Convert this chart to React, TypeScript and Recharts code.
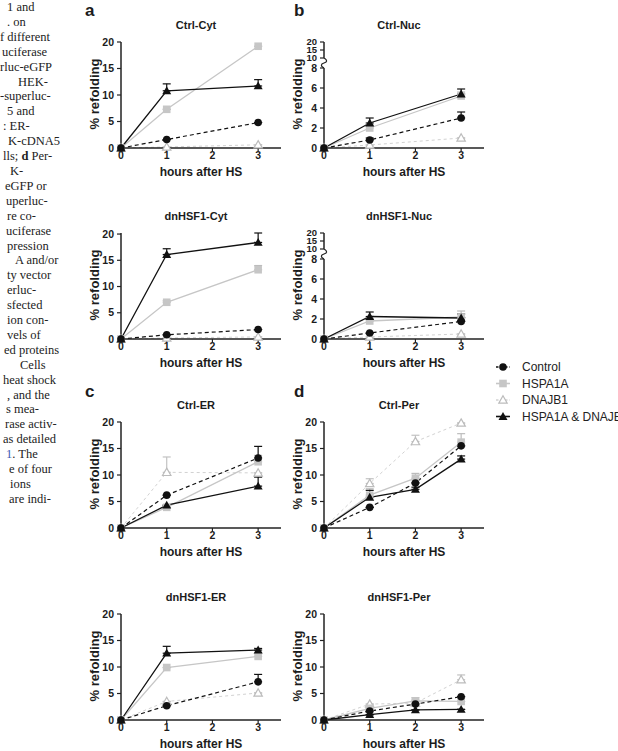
import React from 'react';
import { LineChart, Line, XAxis, YAxis, ErrorBar } from 'recharts';

type Key = 'control' | 'hspa1a' | 'dnajb1' | 'both';
type Series = Record<Key, number[]>;

const HOURS = [0, 1, 3];
const HOURS_PER = [0, 1, 2, 3];
const X_TICKS = [0, 1, 2, 3];
const Y_TICKS = [0, 5, 10, 15, 20];
const Y_TICKS_LOW = [0, 2, 4, 6, 8];
const Y_TICKS_HIGH = [10, 15, 20];

// % refolding; *Err holds the upper error bar only
const ctrlCyt: Series = {
  control: [0, 1.6, 4.8],
  hspa1a: [0, 7.3, 19.2],
  dnajb1: [0, 0.2, 0.6],
  both: [0, 10.8, 11.7],
};
const ctrlCytErr: Series = {
  control: [0, 0, 0],
  hspa1a: [0, 0, 0],
  dnajb1: [0, 0, 0],
  both: [0, 1.3, 1.2],
};

const ctrlNuc: Series = {
  control: [0, 0.8, 3.0],
  hspa1a: [0, 2.0, 5.2],
  dnajb1: [0, 0.3, 1.0],
  both: [0, 2.5, 5.4],
};
const ctrlNucErr: Series = {
  control: [0, 0.2, 0.6],
  hspa1a: [0, 0.3, 0.4],
  dnajb1: [0, 0, 0],
  both: [0, 0.5, 0.5],
};

const dnCyt: Series = {
  control: [0, 0.8, 1.8],
  hspa1a: [0, 7.0, 13.2],
  dnajb1: [0, 0.2, 0.4],
  both: [0, 16.1, 18.4],
};
const dnCytErr: Series = {
  control: [0, 0, 0],
  hspa1a: [0, 0.3, 0.8],
  dnajb1: [0, 0, 0],
  both: [0, 1.1, 1.8],
};

const dnNuc: Series = {
  control: [0, 0.6, 1.75],
  hspa1a: [0, 1.8, 2.2],
  dnajb1: [0, 0.2, 0.5],
  both: [0, 2.25, 2.1],
};
const dnNucErr: Series = {
  control: [0, 0, 0.4],
  hspa1a: [0, 0.3, 0.6],
  dnajb1: [0, 0, 0],
  both: [0, 0.45, 0.4],
};

const ctrlEr: Series = {
  control: [0, 6.2, 13.2],
  hspa1a: [0, 3.9, 12.5],
  dnajb1: [0, 10.5, 10.4],
  both: [0, 4.3, 7.9],
};
const ctrlErErr: Series = {
  control: [0, 0, 2.2],
  hspa1a: [0, 0, 1.2],
  dnajb1: [0, 2.9, 0],
  both: [0, 0, 1.7],
};

const ctrlPer: Series = {
  control: [0, 3.9, 8.5, 15.5],
  hspa1a: [0, 6.2, 9.4, 16.2],
  dnajb1: [0, 8.4, 16.3, 19.8],
  both: [0, 5.8, 7.3, 13.0],
};
const ctrlPerErr: Series = {
  control: [0, 0, 0, 0],
  hspa1a: [0, 1.2, 0.9, 1.6],
  dnajb1: [0, 0.9, 1.2, 0],
  both: [0, 1.3, 0.4, 0.6],
};

const dnEr: Series = {
  control: [0, 2.7, 7.2],
  hspa1a: [0, 9.9, 12.0],
  dnajb1: [0, 3.5, 5.1],
  both: [0, 12.6, 13.2],
};
const dnErErr: Series = {
  control: [0, 0, 1.4],
  hspa1a: [0, 0, 0.5],
  dnajb1: [0, 0, 0],
  both: [0, 1.3, 0.3],
};

const dnPer: Series = {
  control: [0, 1.7, 3.0, 4.4],
  hspa1a: [0, 2.2, 3.6, 3.5],
  dnajb1: [0, 3.0, 3.2, 7.6],
  both: [0, 1.0, 1.9, 2.0],
};
const dnPerErr: Series = {
  control: [0, 0, 0, 0],
  hspa1a: [0, 0, 0.6, 0],
  dnajb1: [0, 0, 0.6, 0.9],
  both: [0, 0, 0, 0],
};

const SERIES_NAMES: Record<Key, string> = {
  control: 'Control',
  hspa1a: 'HSPA1A',
  dnajb1: 'DNAJB1',
  both: 'HSPA1A & DNAJB1',
};
const DRAW_ORDER: Key[] = ['dnajb1', 'hspa1a', 'control', 'both'];
const LEGEND_ORDER: Key[] = ['control', 'hspa1a', 'dnajb1', 'both'];

// left column of the figure legend, clipped at the page edge: [text, indent]
const CAPTION: [string, number][] = [
  ['1 and', 7], ['. on', 7], ['f different', 0], ['uciferase', 2], ['rluc-eGFP', 0],
  ['HEK-', 18], ['-superluc-', 0], ['5 and', 7], [': ER-', 3], ['K-cDNA5', 8],
  ['lls; d Per-', 3], ['K-', 10], ['eGFP or', 5], ['uperluc-', 6], ['re co-', 7],
  ['uciferase', 6], ['pression', 7], ['A and/or', 15], ['ty vector', 7], ['erluc-', 7],
  ['sfected', 7], ['ion con-', 7], ['vels of', 7], ['ed proteins', 4], ['Cells', 20],
  ['heat shock', 3], [', and the', 7], ['s mea-', 6], ['rase activ-', 5], ['as detailed', 3],
  ['1. The', 6], ['e of four', 9], ['ions', 10], ['are indi-', 9],
];

const FONT = '"Liberation Sans", Arial, Helvetica, sans-serif';
const INK = '#1c1c1c';
const GREY = '#c6c6c6';

const STYLE: Record<Key, { stroke: string; width: number; dash?: string; err: string }> = {
  control: { stroke: '#111', width: 1.2, dash: '4 3', err: '#111' },
  hspa1a: { stroke: GREY, width: 1.3, err: '#bcbcbc' },
  dnajb1: { stroke: '#d2d2d2', width: 1, dash: '3 3', err: '#c2c2c2' },
  both: { stroke: '#111', width: 1.3, err: '#111' },
};

const COL_X = [121, 324];
const LETTER_X = [85, 294];
const ROW_T = [25, 216, 405, 597];
const PLOT_W = 160;
const PLOT_H = 106;
const LOW_H = 80;
const STUB_H = 16;
const Y_AXIS_W = 40;
const X_AXIS_H = 30;
const TOP_PAD = 5;

const tri = (cx: number, cy: number, s: number) =>
  `M${cx},${cy - s} L${cx + s},${cy + s * 0.75} L${cx - s},${cy + s * 0.75} Z`;

function marker(key: Key, cx: number, cy: number, k?: React.Key) {
  switch (key) {
    case 'control':
      return <circle key={k} cx={cx} cy={cy} r={3.8} fill="#111" />;
    case 'hspa1a':
      return <rect key={k} x={cx - 3.8} y={cy - 3.8} width={7.6} height={7.6} fill={GREY} />;
    case 'dnajb1':
      return <path key={k} d={tri(cx, cy, 4.2)} fill="#fff" stroke="#bcbcbc" strokeWidth={1.2} />;
    default:
      return <path key={k} d={tri(cx, cy, 4.5)} fill="#111" />;
  }
}

function buildRows(hours: number[], vals: Series, errs: Series) {
  return hours.map((hour, i) => {
    const row: Record<string, unknown> = { hour };
    for (const k of DRAW_ORDER) {
      row[k] = vals[k][i];
      row[`${k}Err`] = [0, errs[k][i]];
    }
    return row;
  });
}

const tickStyle = { fontSize: 10.5, fontWeight: 700, fill: INK, fontFamily: FONT };
const stubTickStyle = { ...tickStyle, fontSize: 9.5 };
const axisLine = { stroke: '#222', strokeWidth: 1.5 };
const tickLine = { stroke: '#222', strokeWidth: 1.2 };

// Recharts clones the label element with its own x/y, so the anchor goes in px/py
function AxisTitle({ px, py, text, vertical }: { px: number; py: number; text: string; vertical?: boolean }) {
  return (
    <text
      x={px}
      y={py}
      textAnchor="middle"
      dominantBaseline="central"
      transform={vertical ? `rotate(-90 ${px} ${py})` : undefined}
      style={{ fontSize: vertical ? 13 : 12, fontWeight: 700, fill: INK, fontFamily: FONT }}
    >
      {text}
    </text>
  );
}

interface PanelDef {
  title: string;
  letter?: string;
  col: number;
  row: number;
  hours: number[];
  vals: Series;
  errs: Series;
  broken?: boolean;
}

const PANELS: PanelDef[] = [
  { title: 'Ctrl-Cyt', letter: 'a', col: 0, row: 0, hours: HOURS, vals: ctrlCyt, errs: ctrlCytErr },
  { title: 'Ctrl-Nuc', letter: 'b', col: 1, row: 0, hours: HOURS, vals: ctrlNuc, errs: ctrlNucErr, broken: true },
  { title: 'dnHSF1-Cyt', col: 0, row: 1, hours: HOURS, vals: dnCyt, errs: dnCytErr },
  { title: 'dnHSF1-Nuc', col: 1, row: 1, hours: HOURS, vals: dnNuc, errs: dnNucErr, broken: true },
  { title: 'Ctrl-ER', letter: 'c', col: 0, row: 2, hours: HOURS, vals: ctrlEr, errs: ctrlErErr },
  { title: 'Ctrl-Per', letter: 'd', col: 1, row: 2, hours: HOURS_PER, vals: ctrlPer, errs: ctrlPerErr },
  { title: 'dnHSF1-ER', col: 0, row: 3, hours: HOURS, vals: dnEr, errs: dnErErr },
  { title: 'dnHSF1-Per', col: 1, row: 3, hours: HOURS_PER, vals: dnPer, errs: dnPerErr },
];

function Panel({ def }: { def: PanelDef }) {
  const axisX = COL_X[def.col];
  const t = ROW_T[def.row];
  const y20 = t + 17;
  const left = axisX - Y_AXIS_W;
  const top = y20 - TOP_PAD;
  const chartW = Y_AXIS_W + PLOT_W;
  const chartH = TOP_PAD + PLOT_H + X_AXIS_H;
  const marginTop = def.broken ? TOP_PAD + PLOT_H - LOW_H : TOP_PAD;
  const data = buildRows(def.hours, def.vals, def.errs);

  return (
    <>
      {def.letter && (
        <div
          style={{
            position: 'absolute',
            left: LETTER_X[def.col],
            top: def.row === 0 ? 1 : 382,
            fontFamily: FONT,
            fontWeight: 700,
            fontSize: 17,
            lineHeight: '20px',
            color: INK,
          }}
        >
          {def.letter}
        </div>
      )}
      <div
        style={{
          position: 'absolute',
          left: axisX + 75 - 60,
          width: 120,
          top: t - 8,
          lineHeight: '16px',
          textAlign: 'center',
          fontFamily: FONT,
          fontWeight: 700,
          fontSize: 11,
          color: INK,
          whiteSpace: 'nowrap',
        }}
      >
        {def.title}
      </div>

      {def.broken && (
        <>
          {/* upper segment of the broken y axis (10–20) */}
          <div style={{ position: 'absolute', left, top }}>
            <LineChart
              width={chartW}
              height={TOP_PAD + STUB_H + 6}
              data={data}
              margin={{ top: TOP_PAD, right: 0, bottom: 6, left: 0 }}
            >
              <XAxis dataKey="hour" type="number" domain={[0, 3.5]} hide />
              <YAxis
                type="number"
                domain={[10, 20]}
                allowDataOverflow
                ticks={Y_TICKS_HIGH}
                interval={0}
                width={Y_AXIS_W}
                axisLine={axisLine}
                tickLine={tickLine}
                tickSize={4}
                tickMargin={3}
                tick={stubTickStyle}
              />
              <Line dataKey="control" stroke="none" dot={false} activeDot={false} isAnimationActive={false} />
            </LineChart>
          </div>
          <svg
            style={{ position: 'absolute', left: axisX - 5, top: y20 + STUB_H }}
            width={10}
            height={10}
          >
            <path d="M5,0 C8.5,2 8.5,4 5,5 C1.5,6 1.5,8 5,10" fill="none" stroke="#222" strokeWidth={1.2} />
          </svg>
        </>
      )}

      <div style={{ position: 'absolute', left, top }}>
        <LineChart
          width={chartW}
          height={chartH}
          data={data}
          margin={{ top: marginTop, right: 0, bottom: 0, left: 0 }}
        >
          <XAxis
            dataKey="hour"
            type="number"
            domain={[0, 3.5]}
            ticks={X_TICKS}
            interval={0}
            height={X_AXIS_H}
            axisLine={axisLine}
            tickLine={tickLine}
            tickSize={3}
            tickMargin={1}
            tick={tickStyle}
            label={<AxisTitle px={Y_AXIS_W + PLOT_W / 2} py={TOP_PAD + PLOT_H + 24} text="hours after HS" />}
          />
          <YAxis
            type="number"
            domain={def.broken ? [0, 8] : [0, 20]}
            ticks={def.broken ? Y_TICKS_LOW : Y_TICKS}
            interval={0}
            width={Y_AXIS_W}
            axisLine={axisLine}
            tickLine={tickLine}
            tickSize={4}
            tickMargin={3}
            tick={tickStyle}
            label={<AxisTitle px={Y_AXIS_W - 27} py={TOP_PAD + PLOT_H / 2 - 1} text="% refolding" vertical />}
          />
          {DRAW_ORDER.map((k) => (
            <Line
              key={`${k}-err`}
              dataKey={k}
              stroke="none"
              dot={false}
              activeDot={false}
              legendType="none"
              isAnimationActive={false}
            >
              <ErrorBar dataKey={`${k}Err`} direction="y" width={4} stroke={STYLE[k].err} strokeWidth={1.2} />
            </Line>
          ))}
          {DRAW_ORDER.map((k) => (
            <Line
              key={k}
              dataKey={k}
              name={SERIES_NAMES[k]}
              stroke={STYLE[k].stroke}
              strokeWidth={STYLE[k].width}
              strokeDasharray={STYLE[k].dash}
              activeDot={false}
              isAnimationActive={false}
              dot={(p: any) =>
                p.cx == null || p.cy == null ? <g key={p.index} /> : marker(k, p.cx, p.cy, p.index)
              }
            />
          ))}
        </LineChart>
      </div>
    </>
  );
}

function KeyBox() {
  const rowY = [12, 28.5, 45, 61.5];
  return (
    <svg style={{ position: 'absolute', left: 490, top: 355, overflow: 'visible' }} width={128} height={75}>
      {LEGEND_ORDER.map((k, i) => (
        <g key={k}>
          <line
            x1={6}
            x2={20}
            y1={rowY[i]}
            y2={rowY[i]}
            stroke={STYLE[k].stroke}
            strokeWidth={STYLE[k].width + 0.3}
            strokeDasharray={STYLE[k].dash ? '2.5 2' : undefined}
          />
          {marker(k, 13, rowY[i])}
          <text
            x={32}
            y={rowY[i]}
            dominantBaseline="central"
            style={{ fontSize: 12, fill: '#222', fontFamily: FONT }}
          >
            {SERIES_NAMES[k]}
          </text>
        </g>
      ))}
    </svg>
  );
}

function Caption() {
  return (
    <div
      style={{
        position: 'absolute',
        left: 0,
        top: 0,
        fontFamily: '"Liberation Serif", "Times New Roman", serif',
        fontSize: 12.5,
        lineHeight: '14.9px',
        color: '#222',
      }}
    >
      {CAPTION.map(([line, indent], i) => {
        let content: React.ReactNode = line;
        if (line.startsWith('lls; d')) {
          content = (
            <>
              lls; <b>d</b> Per-
            </>
          );
        } else if (line === '1. The') {
          content = (
            <>
              <span style={{ color: '#3b5bb5' }}>1</span>. The
            </>
          );
        }
        return (
          <div key={i} style={{ whiteSpace: 'nowrap', paddingLeft: indent }}>
            {content}
          </div>
        );
      })}
    </div>
  );
}

export default function App() {
  return (
    <div
      style={{
        position: 'absolute',
        left: 0,
        top: 0,
        width: 618,
        height: 751,
        overflow: 'hidden',
        background: '#fff',
      }}
    >
      <Caption />
      {PANELS.map((p) => (
        <Panel key={p.title} def={p} />
      ))}
      <KeyBox />
    </div>
  );
}
